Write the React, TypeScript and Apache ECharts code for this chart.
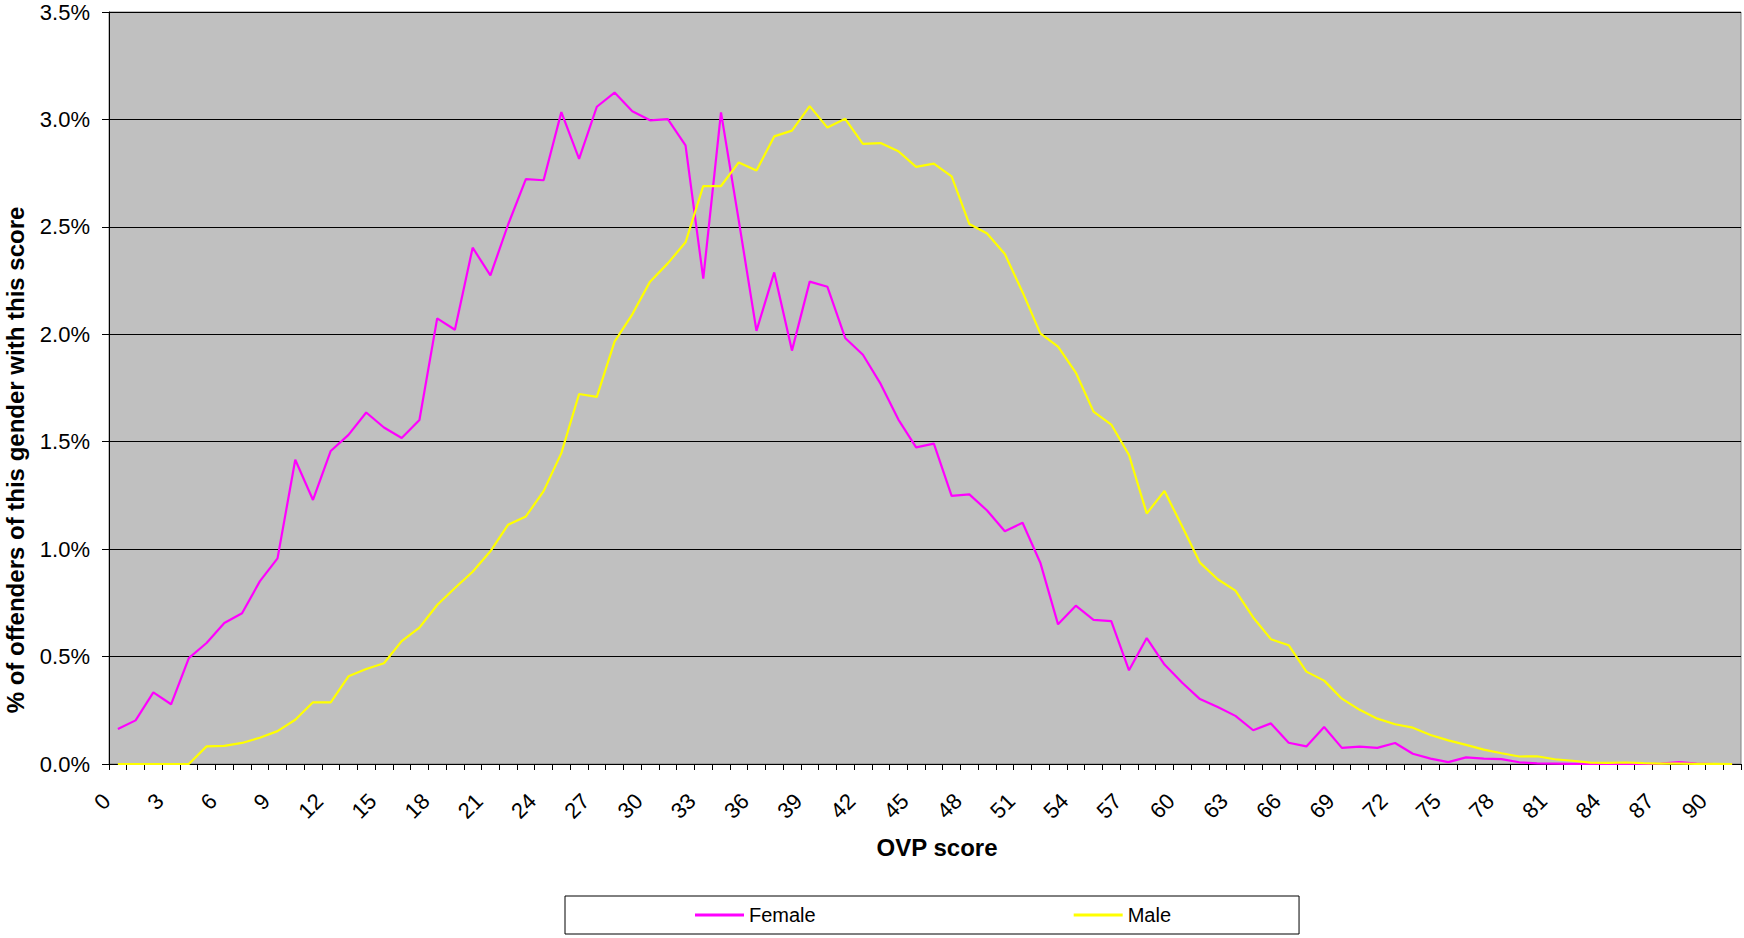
import React, { useEffect, useRef } from "react";
import * as echarts from "echarts";

const scores: string[] = Array.from({ length: 92 }, (_, i) => String(i));

const female: number[] = [
  0.163, 0.203, 0.333, 0.278, 0.493, 0.563, 0.656, 0.702, 0.85, 0.957,
  1.416, 1.229, 1.457, 1.532, 1.636, 1.566, 1.517, 1.601, 2.074, 2.021,
  2.403, 2.274, 2.511, 2.722, 2.717, 3.034, 2.816, 3.059, 3.125, 3.038,
  2.996, 3.001, 2.879, 2.259, 3.033, 2.53, 2.016, 2.288, 1.924, 2.245,
  2.221, 1.983, 1.905, 1.769, 1.603, 1.474, 1.491, 1.248, 1.255, 1.18,
  1.083, 1.123, 0.937, 0.65, 0.737, 0.671, 0.665, 0.436, 0.586, 0.463,
  0.378, 0.302, 0.265, 0.224, 0.157, 0.189, 0.099, 0.082, 0.172, 0.075,
  0.081, 0.075, 0.098, 0.048, 0.025, 0.009, 0.031, 0.025, 0.023, 0.008,
  0.003, 0.002, 0.001, 0.001, 0, 0, 0, 0.002, 0.009, 0.002,
  0, 0,
];

const male: number[] = [
  0, 0, 0, 0, 0, 0.082, 0.084, 0.098, 0.122, 0.153,
  0.206, 0.287, 0.287, 0.408, 0.442, 0.469, 0.572, 0.635, 0.74, 0.819,
  0.895, 0.99, 1.114, 1.152, 1.27, 1.447, 1.722, 1.709, 1.966, 2.093,
  2.245, 2.33, 2.428, 2.69, 2.69, 2.8, 2.762, 2.921, 2.948, 3.062,
  2.962, 3.003, 2.886, 2.89, 2.852, 2.779, 2.794, 2.735, 2.513, 2.469,
  2.374, 2.196, 2.004, 1.943, 1.822, 1.64, 1.58, 1.438, 1.166, 1.271,
  1.105, 0.937, 0.86, 0.807, 0.682, 0.581, 0.553, 0.43, 0.388, 0.304,
  0.252, 0.211, 0.185, 0.169, 0.135, 0.11, 0.089, 0.067, 0.05, 0.035,
  0.036, 0.022, 0.015, 0.006, 0.005, 0.007, 0.004, 0.002, 0.002, 0.001,
  0.001, 0,
];

const seriesNames = ["Female", "Male"];
const seriesColors = ["#FF00FF", "#FFFF00"];
const yTitle = "% of offenders of this gender with this score";
const xTitle = "OVP score";

const FONT = "'Liberation Sans', Arial, sans-serif";

export default function App() {
  const ref = useRef<HTMLDivElement>(null);

  useEffect(() => {
    if (!ref.current) return;
    const chart = echarts.init(ref.current, undefined, { renderer: "svg" });
    chart.setOption({
      animation: false,
      backgroundColor: "#ffffff",
      textStyle: { fontFamily: FONT, color: "#000" },
      grid: {
        left: 109,
        right: 3,
        top: 12,
        bottom: 174,
        show: true,
        backgroundColor: "#C0C0C0",
        borderColor: "#808080",
        borderWidth: 1,
      },
      xAxis: {
        type: "category",
        data: scores,
        boundaryGap: true,
        axisLine: { show: true, lineStyle: { color: "#000", width: 1 } },
        axisTick: {
          show: true,
          interval: 0,
          length: 6,
          lineStyle: { color: "#000" },
        },
        axisLabel: {
          interval: 2,
          rotate: 45,
          fontSize: 22,
          color: "#000",
          fontFamily: FONT,
          margin: 22,
          padding: [0, 16, 0, 0],
        },
        splitLine: { show: false },
      },
      yAxis: {
        type: "value",
        min: 0,
        max: 3.5,
        interval: 0.5,
        axisLine: { show: true, lineStyle: { color: "#000", width: 1 } },
        axisTick: { show: true, length: 7, lineStyle: { color: "#000" } },
        axisLabel: {
          fontSize: 22,
          color: "#000",
          fontFamily: FONT,
          margin: 19,
          formatter: (v: number) => v.toFixed(1) + "%",
        },
        splitLine: { show: true, lineStyle: { color: "#000", width: 1 } },
      },
      legend: {
        data: seriesNames.map((n) => ({ name: n, icon: "rect" })),
        left: 565,
        top: 896,
        orient: "horizontal",
        itemWidth: 49,
        itemHeight: 3,
        itemGap: 258,
        padding: [9, 128, 9, 130],
        borderColor: "#000",
        borderWidth: 1,
        backgroundColor: "#fff",
        textStyle: { fontSize: 20, color: "#000", fontFamily: FONT },
      },
      graphic: [
        {
          type: "text",
          x: 15.5,
          y: 460,
          rotation: Math.PI / 2,
          style: {
            text: yTitle,
            fontSize: 24,
            fontWeight: "bold",
            fontFamily: FONT,
            fill: "#000",
            align: "center",
            verticalAlign: "middle",
          },
        },
        {
          type: "text",
          x: 937,
          y: 847,
          style: {
            text: xTitle,
            fontSize: 24,
            fontWeight: "bold",
            fontFamily: FONT,
            fill: "#000",
            align: "center",
            verticalAlign: "middle",
          },
        },
      ],
      series: [
        {
          name: seriesNames[0],
          type: "line",
          data: female,
          symbol: "none",
          showSymbol: false,
          color: seriesColors[0],
          lineStyle: { color: seriesColors[0], width: 2.2 },
        },
        {
          name: seriesNames[1],
          type: "line",
          data: male,
          symbol: "none",
          showSymbol: false,
          color: seriesColors[1],
          lineStyle: { color: seriesColors[1], width: 2.2 },
        },
      ],
    });
    return () => chart.dispose();
  }, []);

  return (
    <div
      ref={ref}
      style={{ position: "fixed", left: 0, top: 0, width: 1744, height: 938 }}
    />
  );
}
